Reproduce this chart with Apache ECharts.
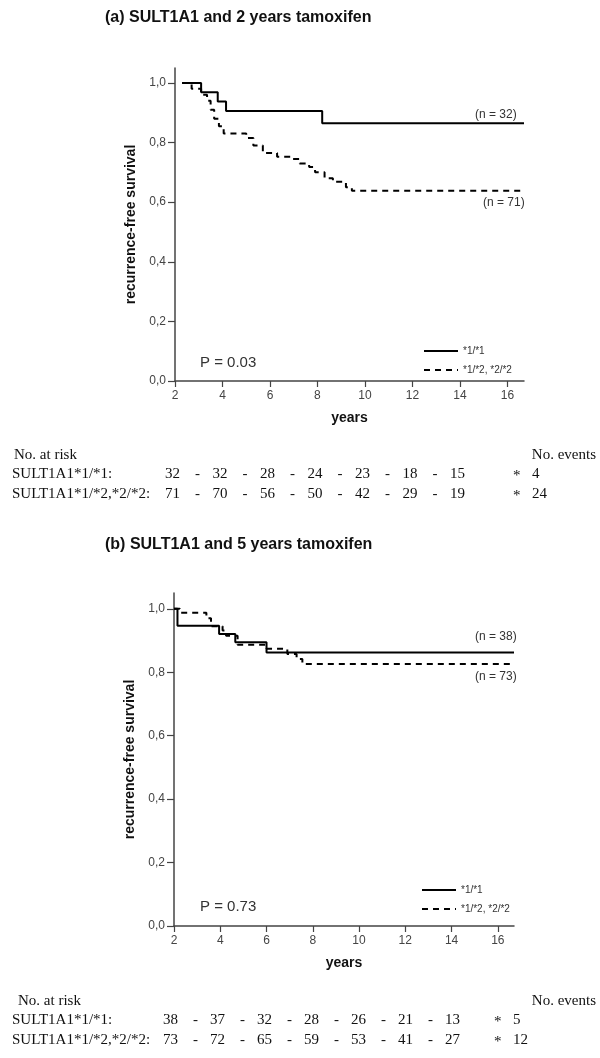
<!DOCTYPE html>
<html>
<head>
<meta charset="utf-8">
<script src="https://cdn.jsdelivr.net/npm/echarts@6/dist/echarts.min.js"></script>
<style>
  html, body { margin: 0; padding: 0; background: #fff; }
  #chart { width: 600px; height: 1058px; }
</style>
</head>
<body>
<div id="chart"></div>
<script>
// Kaplan-Meier steps: [years, survival after the event]
const wildA = [[2.3, 1.0], [3.1, 0.969], [3.8, 0.938], [4.15, 0.906], [8.2, 0.865], [16.7, 0.865]];
const variantA = [
  [2.3, 1.0], [2.7, 0.98], [3.1, 0.96], [3.35, 0.94], [3.5, 0.91], [3.65, 0.88], [3.85, 0.855],
  [4.05, 0.83], [5.0, 0.815], [5.3, 0.79], [5.7, 0.765], [6.3, 0.752], [6.95, 0.745], [7.25, 0.73],
  [7.65, 0.718], [7.9, 0.70], [8.3, 0.68], [8.65, 0.668], [9.2, 0.65], [9.45, 0.638], [16.7, 0.638]
];
const wildB = [[2.0, 1.0], [2.15, 0.947], [3.95, 0.921], [4.65, 0.895], [6.0, 0.862], [16.7, 0.862]];
const variantB = [
  [2.0, 1.0], [2.25, 0.988], [3.4, 0.97], [3.6, 0.945], [4.1, 0.932], [4.25, 0.915], [4.75, 0.887],
  [6.0, 0.874], [6.9, 0.858], [7.3, 0.842], [7.55, 0.826], [16.7, 0.826]
];

const xTicks = [2, 4, 6, 8, 10, 12, 14, 16];
const yTicks = [0, 0.2, 0.4, 0.6, 0.8, 1.0];

const atRiskA1 = [32, 32, 28, 24, 23, 18, 15];
const atRiskA2 = [71, 70, 56, 50, 42, 29, 19];
const eventsA = [4, 24];
const atRiskB1 = [38, 37, 32, 28, 26, 21, 13];
const atRiskB2 = [73, 72, 65, 59, 53, 41, 27];
const eventsB = [5, 12];

const nameWild = "*1/*1";
const nameVar = "*1/*2, *2/*2";

const sans = "Liberation Sans, Arial, sans-serif";
const serif = "Liberation Serif, Times New Roman, serif";

const myChart = echarts.init(document.getElementById("chart"));

const xAxisFor = (gridIndex) => ({
  gridIndex,
  type: "value",
  min: 2,
  max: 16.7,
  name: "years",
  nameLocation: "middle",
  nameGap: 30,
  nameTextStyle: { fontFamily: sans, fontWeight: "bold", fontSize: 14, color: "#111" },
  axisLine: { lineStyle: { color: "#444", width: 1.5 } },
  axisTick: { length: 6, lineStyle: { color: "#444", width: 1.2 }, customValues: xTicks },
  axisLabel: { fontFamily: sans, fontSize: 12, color: "#444", margin: 9, customValues: xTicks },
  splitLine: { show: false }
});

const yAxisFor = (gridIndex) => ({
  gridIndex,
  type: "value",
  min: 0,
  max: 1.05,
  name: "recurrence-free survival",
  nameLocation: "middle",
  nameGap: 28,
  nameRotate: 90,
  nameTextStyle: { fontFamily: sans, fontWeight: "bold", fontSize: 14, color: "#111" },
  axisLine: { show: true, lineStyle: { color: "#444", width: 1.5 } },
  axisTick: { show: true, length: 7, lineStyle: { color: "#444", width: 1.2 }, customValues: yTicks },
  axisLabel: {
    fontFamily: sans, fontSize: 12, color: "#444", margin: 9, customValues: yTicks,
    formatter: (v) => v.toFixed(1).replace(".", ",")
  },
  splitLine: { show: false }
});

const stepSeries = (name, data, idx, dashed) => ({
  name,
  type: "line",
  step: "end",
  symbol: "none",
  xAxisIndex: idx,
  yAxisIndex: idx,
  data,
  itemStyle: { color: "#000" },
  lineStyle: { color: "#000", width: 2, type: dashed ? [6, 5] : "solid" },
  animation: false
});

const txt = (text, x, y, font, extra) => ({
  type: "text",
  x, y,
  style: Object.assign({ text, font, fill: "#111", align: "left", verticalAlign: "middle" }, extra || {})
});

const tableFont = "15px " + serif;

// number-at-risk table rows, evenly spaced columns
const riskRow = (label, values, events, y, firstX, step, starX, evX) => {
  const items = [txt(label, 12, y, tableFont)];
  values.forEach((v, i) => {
    items.push(txt(String(v), firstX + i * step, y, tableFont));
    if (i < values.length - 1) items.push(txt("-", firstX + i * step + 30, y, tableFont));
  });
  items.push(txt("*", starX, y + 2, tableFont));
  items.push(txt(String(events), evX, y, tableFont));
  return items;
};

const legendFor = (left, top) => ({
  left, top, orient: "vertical", itemWidth: 34, itemHeight: 8, itemGap: 9,
  selectedMode: false, data: [nameWild, nameVar],
  itemStyle: { opacity: 0 },
  textStyle: { fontFamily: sans, fontSize: 10, color: "#333" }
});

const graphics = [
  txt("(a) SULT1A1 and 2 years tamoxifen", 105, 18, "bold 16px " + sans),
  txt("(b) SULT1A1 and 5 years tamoxifen", 105, 545, "bold 16px " + sans),
  txt("P = 0.03", 200, 363, "15px " + sans, { fill: "#333" }),
  txt("P = 0.73", 200, 907, "15px " + sans, { fill: "#333" }),
  txt("(n = 32)", 475, 115, "12px " + sans, { fill: "#333" }),
  txt("(n = 71)", 483, 203, "12px " + sans, { fill: "#333" }),
  txt("(n = 38)", 475, 637, "12px " + sans, { fill: "#333" }),
  txt("(n = 73)", 475, 677, "12px " + sans, { fill: "#333" }),
  txt("No. at risk", 14, 455, tableFont),
  txt("No. events", 596, 455, tableFont, { align: "right" }),
  ...riskRow("SULT1A1*1/*1:", atRiskA1, eventsA[0], 474, 165, 47.5, 513, 532),
  ...riskRow("SULT1A1*1/*2,*2/*2:", atRiskA2, eventsA[1], 494, 165, 47.5, 513, 532),
  txt("No. at risk", 18, 1001, tableFont),
  txt("No. events", 596, 1001, tableFont, { align: "right" }),
  ...riskRow("SULT1A1*1/*1:", atRiskB1, eventsB[0], 1020, 163, 47, 494, 513),
  ...riskRow("SULT1A1*1/*2,*2/*2:", atRiskB2, eventsB[1], 1040, 163, 47, 494, 513)
];

myChart.setOption({
  backgroundColor: "#fff",
  animation: false,
  grid: [
    { left: 175, top: 68, width: 349, height: 313 },
    { left: 174, top: 593, width: 340, height: 333 }
  ],
  xAxis: [xAxisFor(0), xAxisFor(1)],
  yAxis: [yAxisFor(0), yAxisFor(1)],
  legend: [legendFor(418, 341), legendFor(416, 880)],
  series: [
    stepSeries(nameWild, wildA, 0, false),
    stepSeries(nameVar, variantA, 0, true),
    stepSeries(nameWild, wildB, 1, false),
    stepSeries(nameVar, variantB, 1, true)
  ],
  graphic: graphics
});
</script>
</body>
</html>
